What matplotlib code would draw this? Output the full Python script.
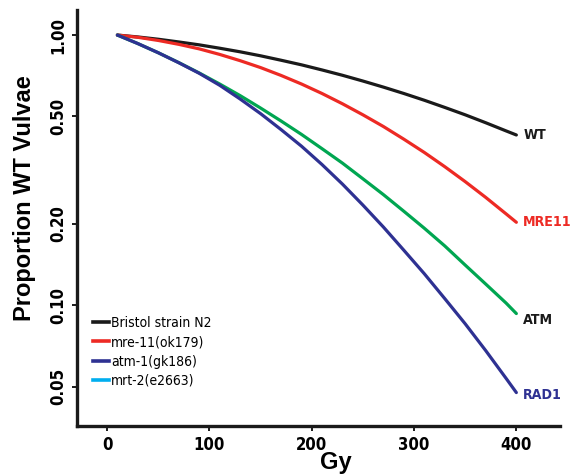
import numpy as np
import matplotlib
matplotlib.use("Agg")
import matplotlib.pyplot as plt
from matplotlib.lines import Line2D
from matplotlib.ticker import FixedLocator, NullLocator, FormatStrFormatter

# dose (Gy) and proportion of WT vulvae
dose = [10, 30, 50, 70, 90, 110, 130, 150, 170, 190, 210, 230, 250, 270, 290, 310, 330, 350, 370, 390, 400]
wt = [1.0, 0.984, 0.965, 0.943, 0.920, 0.894, 0.867, 0.838, 0.807, 0.776, 0.743, 0.710, 0.676, 0.642,
      0.608, 0.574, 0.540, 0.507, 0.474, 0.442, 0.427]
mre11 = [1.0, 0.981, 0.955, 0.924, 0.889, 0.848, 0.804, 0.758, 0.709, 0.659, 0.608, 0.557, 0.507, 0.459,
         0.412, 0.368, 0.326, 0.287, 0.251, 0.218, 0.203]
atm = [1.0, 0.930, 0.860, 0.791, 0.724, 0.659, 0.597, 0.537, 0.481, 0.429, 0.380, 0.336, 0.294, 0.257,
       0.223, 0.193, 0.166, 0.141, 0.120, 0.102, 0.0933]
rad1 = [1.0, 0.930, 0.860, 0.790, 0.722, 0.652, 0.580, 0.512, 0.447, 0.388, 0.332, 0.281, 0.235, 0.195,
        0.160, 0.131, 0.106, 0.0855, 0.0681, 0.0537, 0.0476]

curve_names = ["WT", "MRE11", "ATM", "RAD1"]
legend_names = ["Bristol strain N2", "mre-11(ok179)", "atm-1(gk186)", "mrt-2(e2663)"]

yticks = [0.05, 0.10, 0.20, 0.50, 1.00]
xticks = [0, 100, 200, 300, 400]

black = "#1a1a1a"
red = "#ed2a24"
green = "#00a651"
blue = "#2e3192"
cyan = "#00aeef"

narrow = dict(family="DejaVu Sans", stretch="condensed")
plain = ["Liberation Sans", "DejaVu Sans"]

fig = plt.figure(figsize=(5.72, 4.76), dpi=100)
ax = fig.add_axes([0.1346, 0.105, 0.845, 0.874])

series = [wt, mre11, atm, rad1]
colors = [black, red, green, blue]
label_colors = [black, red, black, blue]
label_offsets = [0, 0, -5, -2]
for vals, c, name, lc, off in zip(series, colors, curve_names, label_colors, label_offsets):
    ax.plot(dose, vals, color=c, lw=2.3, solid_capstyle="round")
    ax.annotate(name, (dose[-1], vals[-1]), xytext=(5, off), textcoords="offset points",
                ha="left", va="center", color=lc, fontsize=10.2, fontweight="bold", **narrow)

ax.set_yscale("log")
ax.set_ylim(0.0358, 1.238)
ax.set_xlim(-29.5, 443)
ax.yaxis.set_major_locator(FixedLocator(yticks))
ax.yaxis.set_minor_locator(NullLocator())
ax.yaxis.set_major_formatter(FormatStrFormatter("%.2f"))
ax.set_xticks(xticks)

for s in ["top", "right"]:
    ax.spines[s].set_visible(False)
for s in ["left", "bottom"]:
    ax.spines[s].set_linewidth(2.4)
    ax.spines[s].set_color(black)

ax.tick_params(axis="both", which="major", length=3.6, width=1.4, color=black, pad=3.5)
for lab in ax.get_xticklabels() + ax.get_yticklabels():
    lab.set_family("DejaVu Sans")
    lab.set_fontstretch("condensed")
    lab.set_fontweight("bold")
    lab.set_fontsize(12)
for lab in ax.get_yticklabels():
    lab.set_rotation(90)
    lab.set_va("center")

fig.text(336 / 572, 1 - 469 / 476, "Gy", ha="center", va="baseline",
         fontsize=17, fontweight="bold", family=plain)
fig.text(25 / 572, 1 - 198 / 476, "Proportion WT Vulvae", ha="center", va="center",
         rotation=90, fontsize=17, fontweight="bold", family=plain)

handles = [Line2D([], [], color=c, lw=2.6) for c in [black, red, blue, cyan]]
leg = ax.legend(handles, legend_names, loc="upper left",
                bbox_to_anchor=(93 / 572, 1 - 316 / 476), bbox_transform=fig.transFigure,
                frameon=False, handlelength=1.15, handletextpad=0.15, labelspacing=0.38,
                borderaxespad=0, borderpad=0,
                prop={"family": "DejaVu Sans", "stretch": "condensed", "size": 10})

fig.savefig("out.png", dpi=100)
